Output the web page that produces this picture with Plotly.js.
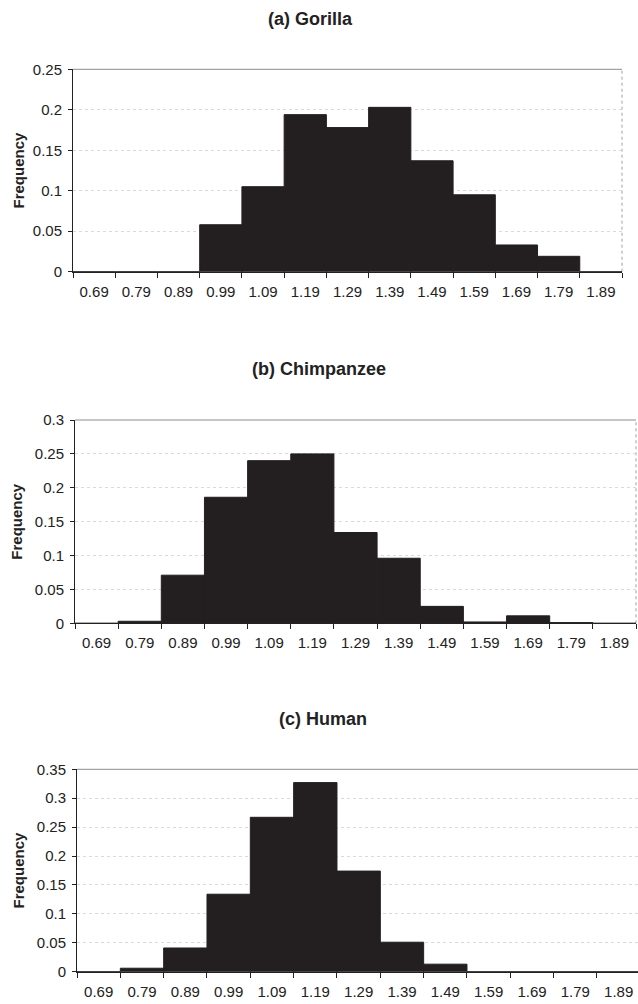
<!DOCTYPE html>
<html>
<head>
<meta charset="utf-8">
<script src="https://cdn.plot.ly/plotly-3.0.1.min.js"></script>
<style>html,body{margin:0;padding:0;background:#fff}#chart{width:638px;height:1004px}</style>
</head>
<body>
<div id="chart"></div>
<script>
// Bin labels (category axis)
const bins = ['0.69','0.79','0.89','0.99','1.09','1.19','1.29','1.39','1.49','1.59','1.69','1.79','1.89'];

// Relative frequencies
const gorilla    = [0, 0, 0, 0.058, 0.105, 0.194, 0.178, 0.203, 0.137, 0.095, 0.033, 0.019, 0];
const chimpanzee = [0, 0.003, 0.071, 0.186, 0.240, 0.250, 0.134, 0.096, 0.025, 0.002, 0.011, 0.001, 0];
const human      = [0, 0.006, 0.041, 0.134, 0.267, 0.327, 0.174, 0.051, 0.013, 0, 0, 0, 0];

const panelTitles = ['(a) Gorilla', '(b) Chimpanzee', '(c) Human'];
const yTitle = 'Frequency';

const yTicksG = [0, 0.05, 0.1, 0.15, 0.2, 0.25];
const yTicksC = [0, 0.05, 0.1, 0.15, 0.2, 0.25, 0.3];
const yTicksH = [0, 0.05, 0.1, 0.15, 0.2, 0.25, 0.3, 0.35];
const yTickTextG = ['0', '0.05', '0.1', '0.15', '0.2', '0.25'];
const yTickTextC = ['0', '0.05', '0.1', '0.15', '0.2', '0.25', '0.3'];
const yTickTextH = ['0', '0.05', '0.1', '0.15', '0.2', '0.25', '0.3', '0.35'];

const W = 638, H = 1004;
const barColor = '#231f20';
const font = 'Liberation Sans, Arial, sans-serif';

function bar(y, xa, ya) {
  return {type: 'bar', x: bins, y: y, xaxis: xa, yaxis: ya,
    marker: {color: barColor, line: {color: barColor, width: 1}},
    hoverinfo: 'x+y', showlegend: false};
}

// plot-area pixel boxes [left, right, top, bottom]
const boxes = [[73, 622, 69.3, 271.7], [75, 636, 420, 623.3], [77, 640.3, 769.3, 971.7]];

function xaxis(box, anchor) {
  const right = Math.min(box[1], W);
  const perCat = (box[1] - box[0]) / 13;
  const hi = 12.5 - (box[1] - right) / perCat;
  return {type: 'category', domain: [box[0] / W, right / W], anchor: anchor,
    range: [-0.5, hi], showline: true, linecolor: '#222', linewidth: 1,
    ticks: 'outside', tickson: 'boundaries', ticklen: 5, tickcolor: '#222',
    showgrid: false, zeroline: false, fixedrange: true,
    tickfont: {family: font, size: 15, color: '#222'}, ticklabelstandoff: 6};
}
function yaxis(box, anchor, rng, tv, tt) {
  return {domain: [1 - box[3] / H, 1 - box[2] / H], anchor: anchor, range: rng,
    tickvals: tv, ticktext: tt, showline: true, linecolor: '#222', linewidth: 1,
    ticks: 'outside', ticklen: 4, tickcolor: '#222',
    showgrid: true, gridcolor: '#dadada', griddash: 'dot', gridwidth: 1,
    zeroline: false, fixedrange: true,
    tickfont: {family: font, size: 15, color: '#222'}, ticklabelstandoff: 3};
}

const data = [bar(gorilla, 'x', 'y'), bar(chimpanzee, 'x2', 'y2'), bar(human, 'x3', 'y3')];

const titleX = [310, 319, 323];
const titleY = [19, 369, 719];
const freqX = [18, 17, 18];

const annotations = [];
const shapes = [];
boxes.forEach((b, i) => {
  annotations.push({text: '<b>' + panelTitles[i] + '</b>', xref: 'paper', yref: 'paper',
    x: titleX[i] / W, y: 1 - titleY[i] / H, xanchor: 'center', yanchor: 'middle',
    showarrow: false, font: {family: font, size: 18, color: '#222'}});
  annotations.push({text: '<b>' + yTitle + '</b>', xref: 'paper', yref: 'paper',
    x: freqX[i] / W, y: 1 - (b[2] + b[3]) / 2 / H, xanchor: 'center', yanchor: 'middle',
    textangle: -90, showarrow: false, font: {family: font, size: 15, color: '#222'}});
  const xr = (i === 0 ? 'x' : 'x' + (i + 1)) + ' domain';
  const yr = (i === 0 ? 'y' : 'y' + (i + 1)) + ' domain';
  shapes.push({type: 'line', xref: xr, yref: yr, x0: 0, x1: 1, y0: 1, y1: 1,
    line: {color: '#8c8c8c', width: 1}, layer: 'below'});
  if (b[1] < W) {
    shapes.push({type: 'line', xref: xr, yref: yr, x0: 1, x1: 1, y0: 0, y1: 1,
      line: {color: '#a0a0a0', width: 1, dash: 'dot'}, layer: 'below'});
  }
});

const layout = {
  width: W, height: H, margin: {l: 0, r: 0, t: 0, b: 0},
  paper_bgcolor: '#fff', plot_bgcolor: '#fff', bargap: 0,
  font: {family: font, color: '#222'},
  xaxis: xaxis(boxes[0], 'y'), yaxis: yaxis(boxes[0], 'x', [0, 0.25], yTicksG, yTickTextG),
  xaxis2: xaxis(boxes[1], 'y2'), yaxis2: yaxis(boxes[1], 'x2', [0, 0.3], yTicksC, yTickTextC),
  xaxis3: xaxis(boxes[2], 'y3'), yaxis3: yaxis(boxes[2], 'x3', [0, 0.35], yTicksH, yTickTextH),
  annotations: annotations, shapes: shapes
};

Plotly.newPlot('chart', data, layout, {displayModeBar: false, staticPlot: true});
</script>
</body>
</html>
